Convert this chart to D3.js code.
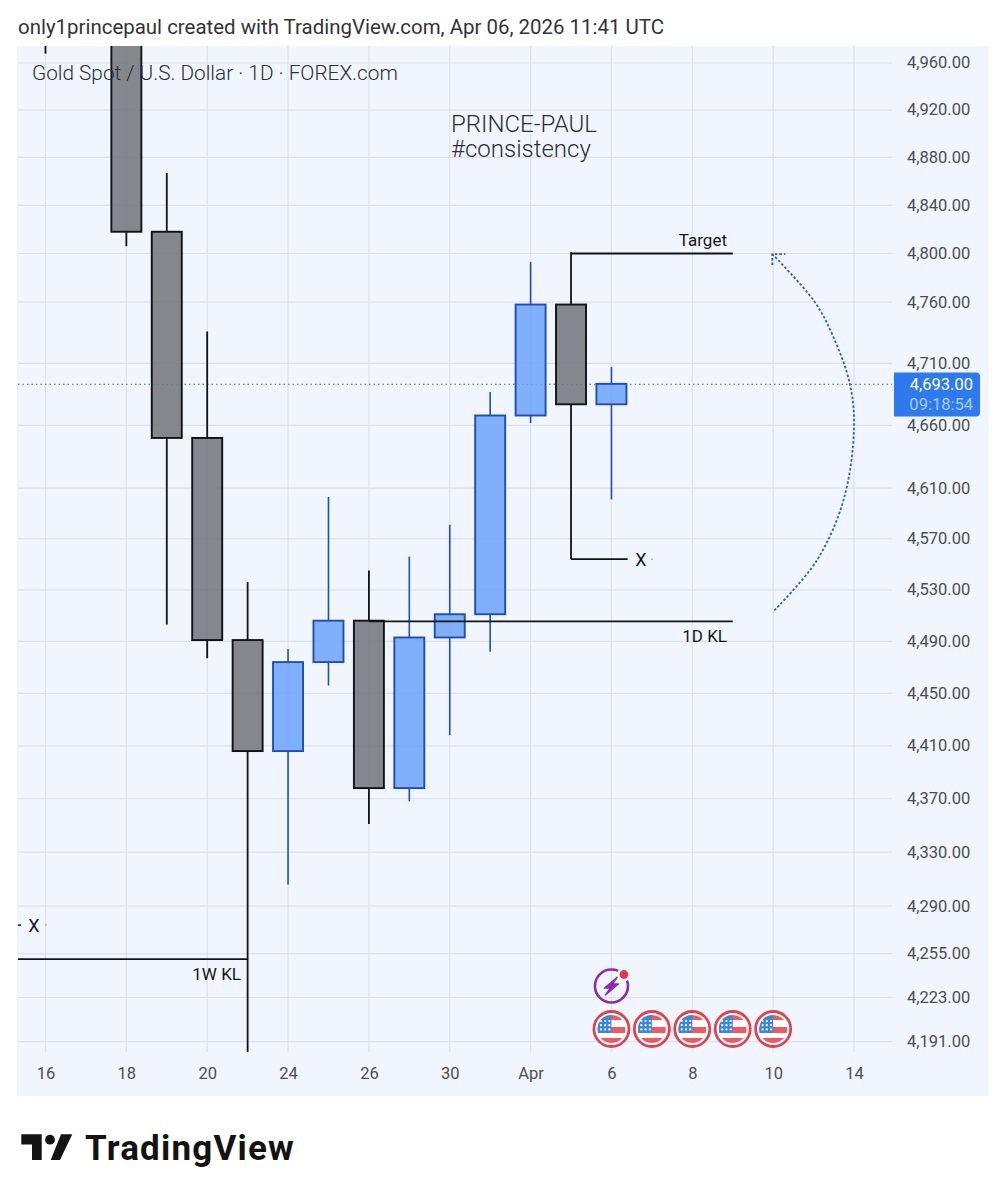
<!DOCTYPE html>
<html>
<head>
<meta charset="utf-8">
<script src="https://cdn.jsdelivr.net/npm/d3@7"></script>
<style>
  body { margin: 0; background: #fff; }
  svg { display: block; }
  text { font-family: Roboto, sans-serif; }
  .tick text { font-size: 16.5px; fill: #4a4d57; }
  .tick line, .domain { display: none; }
</style>
</head>
<body>
<svg id="chart" width="1007" height="1200"></svg>
<script>
// candles (the first two and the top of Mar 18 sit above the visible range)
var barIndex = [0, 1, 2, 3, 4, 5, 6, 7, 8, 9, 10, 11, 12, 13, 14];
var opens  = [5015, 5000, 5005, 4818, 4650, 4491, 4406, 4474, 4506, 4378, 4493, 4511, 4668, 4758, 4677];
var highs  = [5070, 5030, 5040, 4867, 4736, 4536, 4484, 4603, 4545, 4556, 4581, 4687, 4793, 4801, 4707];
var lows   = [4968, 4985, 4806, 4503, 4477, 4183, 4306, 4456, 4351, 4368, 4418, 4482, 4662, 4554, 4601];
var closes = [5000, 5005, 4818, 4650, 4491, 4406, 4474, 4506, 4378, 4493, 4511, 4668, 4758, 4677, 4693.5];

var priceTicks = [4960, 4920, 4880, 4840, 4800, 4760, 4710, 4660, 4610, 4570, 4530, 4490, 4450, 4410, 4370, 4330, 4290, 4255, 4223, 4191];
var timeTicks = [0, 2, 4, 6, 8, 10, 12, 14, 16, 18, 20];
var timeLabels = ['16', '18', '20', '24', '26', '30', 'Apr', '6', '8', '10', '14'];

var lastPrice = 4693;
var targetPrice = 4800;
var stopPrice = 4554;
var dayKeyLevel = 4505.5;
var weekKeyLevel = 4251;
var oldStopPrice = 4276;

// curved arrow anchors: bar position and price
var arrowBars = [18.03, 19.07, 19.74, 20, 19.9, 19.49, 19.02, 17.98];
var arrowPrices = [4514, 4552.5, 4600.5, 4657.5, 4693, 4731.5, 4760.5, 4799.5];

var eventBars = [14, 15, 16, 17, 18];

var dims = { left: 18, right: 892, top: 46, bottom: 1052 };

var x = d3.scaleLinear().domain([0, 20]).range([45.5, 854]);
var y = d3.scaleLog().domain([4191, 4960]).range([1041.7, 63]);

var svg = d3.select('#chart');

svg.append('text')
  .attr('x', 18).attr('y', 34)
  .attr('font-size', 20.45).attr('fill', '#333')
  .text('only1princepaul created with TradingView.com, Apr 06, 2026 11:41 UTC');

// chart background, price axis strip included
svg.append('rect')
  .attr('x', 17).attr('y', dims.top)
  .attr('width', 972).attr('height', 1050)
  .attr('fill', '#f1f5fe');

svg.append('clipPath').attr('id', 'plot')
  .append('rect')
  .attr('x', dims.left).attr('y', dims.top)
  .attr('width', dims.right - dims.left).attr('height', dims.bottom - dims.top);

var gridg = svg.append('g').attr('stroke', '#dde1eb').attr('stroke-width', 1.2);

gridg.selectAll('.hgrid')
  .data(priceTicks)
  .enter()
  .append('line')
  .attr('x1', dims.left).attr('x2', dims.right)
  .attr('y1', (d) => y(d)).attr('y2', (d) => y(d));

gridg.selectAll('.vgrid')
  .data(timeTicks)
  .enter()
  .append('line')
  .attr('x1', (d) => x(d)).attr('x2', (d) => x(d))
  .attr('y1', dims.top).attr('y2', dims.bottom);

var plotg = svg.append('g').attr('clip-path', 'url(#plot)');

plotg.append('line')
  .attr('x1', dims.left).attr('x2', dims.right)
  .attr('y1', y(lastPrice)).attr('y2', y(lastPrice))
  .attr('stroke', '#4c8fc4').attr('stroke-width', 1.2)
  .attr('stroke-dasharray', '1.5 3');

var isUp = (i) => closes[i] >= opens[i];
var bodyWidth = 30;

// wicks stop at the body, the grid shows through the fill
[
  (i) => [highs[i], Math.max(opens[i], closes[i])],
  (i) => [lows[i], Math.min(opens[i], closes[i])]
].forEach(function(ends) {
  plotg.append('g').selectAll('line')
    .data(barIndex)
    .enter()
    .append('line')
    .attr('x1', (i) => x(i)).attr('x2', (i) => x(i))
    .attr('y1', (i) => y(ends(i)[0])).attr('y2', (i) => y(ends(i)[1]))
    .attr('stroke', (i) => isUp(i) ? '#1f4fae' : '#101216')
    .attr('stroke-width', (i) => isUp(i) ? 1.6 : 1.8);
});

plotg.append('g').selectAll('rect')
  .data(barIndex)
  .enter()
  .append('rect')
  .attr('x', (i) => x(i) - bodyWidth / 2)
  .attr('width', bodyWidth)
  .attr('y', (i) => y(Math.max(opens[i], closes[i])))
  .attr('height', (i) => y(Math.min(opens[i], closes[i])) - y(Math.max(opens[i], closes[i])))
  .attr('fill', (i) => isUp(i) ? 'rgba(110,163,250,0.86)' : 'rgba(116,120,124,0.88)')
  .attr('stroke', (i) => isUp(i) ? '#1f4fae' : '#101216')
  .attr('stroke-width', 1.9);

// drawn levels
var levelEnds = [
  [13, 17, targetPrice],
  [13, 14.4, stopPrice],
  [8, 17, dayKeyLevel],
  [-1, 5, weekKeyLevel]
];
plotg.append('g').selectAll('line')
  .data(levelEnds)
  .enter()
  .append('line')
  .attr('x1', (d) => x(d[0])).attr('x2', (d) => x(d[1]))
  .attr('y1', (d) => y(d[2])).attr('y2', (d) => y(d[2]))
  .attr('stroke', '#101216').attr('stroke-width', 1.8);

var levelLabels = [
  ['Target', 727, y(targetPrice) - 7.5, 'end'],
  ['1D KL', 727, y(dayKeyLevel) + 21, 'end'],
  ['1W KL', 241, y(weekKeyLevel) + 21, 'end'],
  ['X', 641, y(stopPrice) + 6.5, 'middle'],
  ['X', 34, y(oldStopPrice) + 6.5, 'middle']
];
svg.append('g').selectAll('text')
  .data(levelLabels)
  .enter()
  .append('text')
  .attr('x', (d) => d[1]).attr('y', (d) => d[2])
  .attr('text-anchor', (d) => d[3])
  .attr('font-size', (d) => d[0] === 'X' ? 18 : 17)
  .attr('fill', '#131722')
  .text((d) => d[0]);

// leftovers of the dashed X lines
plotg.append('line')
  .attr('x1', 18).attr('x2', 21)
  .attr('y1', y(oldStopPrice)).attr('y2', y(oldStopPrice))
  .attr('stroke', '#131722').attr('stroke-width', 1.5);
plotg.selectAll('.xdot')
  .data([[652, stopPrice], [46, oldStopPrice]])
  .enter()
  .append('circle')
  .attr('cx', (d) => d[0]).attr('cy', (d) => y(d[1]))
  .attr('r', 0.7).attr('fill', '#777');

// curved arrow
var arrowLine = d3.line()
  .x((i) => x(arrowBars[i]))
  .y((i) => y(arrowPrices[i]))
  .curve(d3.curveCatmullRom);
var arrowg = svg.append('g')
  .attr('fill', 'none').attr('stroke', '#2c5fbb')
  .attr('stroke-width', 1.8).attr('stroke-dasharray', '2.5 2');
arrowg.append('path').attr('d', arrowLine(d3.range(arrowBars.length)));
var tipX = x(arrowBars[arrowBars.length - 1]);
var tipY = y(arrowPrices[arrowPrices.length - 1]);
arrowg.append('path').attr('d', 'M' + tipX + ',' + (tipY + 11) + 'V' + tipY + 'H' + (tipX + 13));

// notes on the chart
svg.append('text')
  .attr('x', 32).attr('y', 80)
  .attr('font-size', 20.75).attr('font-weight', 300).attr('fill', '#2a2e39')
  .text('Gold Spot / U.S. Dollar · 1D · FOREX.com');

var noteText = svg.append('text')
  .attr('font-size', 24).attr('font-weight', 300).attr('fill', '#2a2e39');
noteText.selectAll('tspan')
  .data(['PRINCE-PAUL', '#consistency'])
  .enter()
  .append('tspan')
  .attr('x', 451)
  .attr('y', (d, i) => 132 + i * 25)
  .text((d) => d);

// axes
var yAxis = d3.axisRight(y)
  .tickValues(priceTicks)
  .tickFormat(d3.format(',.2f'))
  .tickSize(0);
svg.append('g')
  .attr('transform', 'translate(900,0)')
  .call(yAxis)
  .selectAll('text').attr('x', 7).attr('dy', '0.3em');

var xAxis = d3.axisBottom(x)
  .tickValues(timeTicks)
  .tickFormat((d, i) => timeLabels[i])
  .tickSize(0);
svg.append('g')
  .attr('transform', 'translate(0,1052)')
  .call(xAxis)
  .selectAll('text').attr('y', 15).attr('dy', '0.71em');

// last price tag
var tagY = y(lastPrice) - 12;
svg.append('path')
  .attr('d', 'M894,' + tagY + 'H976a4,4 0 0 1 4,4V' + (tagY + 40) + 'a4,4 0 0 1 -4,4H894Z')
  .attr('fill', '#2f79ee');
svg.append('text')
  .attr('x', 973).attr('y', y(lastPrice) + 5.5)
  .attr('text-anchor', 'end').attr('font-size', 16.5).attr('fill', '#fff')
  .text(d3.format(',.2f')(lastPrice));
svg.append('text')
  .attr('x', 973).attr('y', y(lastPrice) + 25.5)
  .attr('text-anchor', 'end').attr('font-size', 16.5).attr('fill', '#a8cbfb')
  .text('09:18:54');

// event markers along the bottom
var defs = svg.append('defs');
defs.append('clipPath').attr('id', 'flagclip').append('circle').attr('r', 14);

var flagg = svg.append('g').selectAll('g')
  .data(eventBars)
  .enter()
  .append('g')
  .attr('transform', (d) => 'translate(' + x(d) + ',1029)');
flagg.append('circle').attr('r', 17.5).attr('fill', '#fff').attr('stroke', '#dc4450').attr('stroke-width', 2.8);
var flagInner = flagg.append('g').attr('clip-path', 'url(#flagclip)');
[[-14, 5], [-2, 6], [9, 6]].forEach(function(s) {
  flagInner.append('rect')
    .attr('x', -14).attr('y', s[0]).attr('width', 28).attr('height', s[1])
    .attr('fill', '#ee5a5f');
});
flagInner.append('rect').attr('x', -14).attr('y', -14).attr('width', 14).attr('height', 18).attr('fill', '#3d86dc');
d3.range(3).forEach(function(r) {
  d3.range(3).forEach(function(c) {
    flagInner.append('circle')
      .attr('cx', -10.5 + c * 4.2).attr('cy', -8 + r * 4.2)
      .attr('r', 1.1).attr('fill', '#fff');
  });
});

// lightning badge above the first flag
var badge = svg.append('g').attr('transform', 'translate(' + x(14) + ',986)');
badge.append('circle').attr('r', 16.5).attr('fill', 'none').attr('stroke', '#8a2ea8').attr('stroke-width', 2.6);
badge.append('path')
  .attr('d', 'M6,-9 L-7,2 L-1,2 L-6,9 L7,-2 L1,-2 Z')
  .attr('fill', '#8a2ea8').attr('stroke', '#8a2ea8').attr('stroke-width', 1.4).attr('stroke-linejoin', 'round');
badge.append('circle').attr('cx', 12.5).attr('cy', -11.5).attr('r', 7).attr('fill', '#f1f5fe');
badge.append('circle').attr('cx', 12.5).attr('cy', -11.5).attr('r', 4.4).attr('fill', '#ee3344');

// logo
var logo = svg.append('g').attr('fill', '#131313');
logo.append('path').attr('d', 'M21.3,1134.3H41.7V1160H32V1144.5H21.3Z');
logo.append('circle').attr('cx', 50).attr('cy', 1139.7).attr('r', 4.9);
logo.append('path').attr('d', 'M61,1134.3H72.3L60,1160H50.7Z');
logo.append('text')
  .attr('x', 85).attr('y', 1160)
  .attr('font-family', 'Inter, sans-serif')
  .attr('font-size', 35).attr('font-weight', 700)
  .attr('letter-spacing', 1.2)
  .text('TradingView');
</script>
</body>
</html>
